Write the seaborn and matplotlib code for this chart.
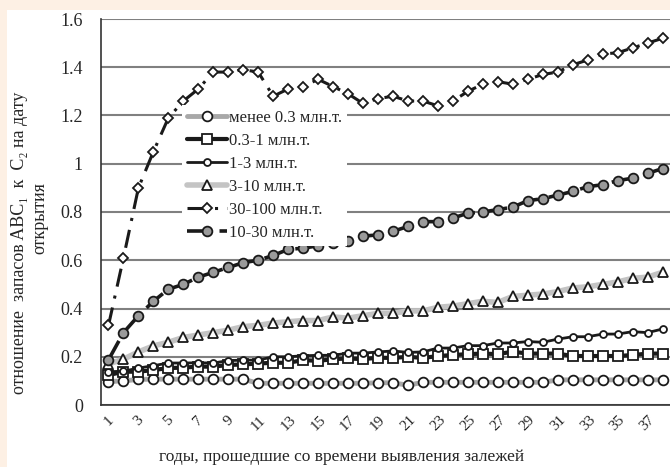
import numpy as np
import pandas as pd
import matplotlib
matplotlib.use("Agg")
import matplotlib.pyplot as plt
from matplotlib.patches import Rectangle
import seaborn as sns

# --- данные ---
years = list(range(1, 39))

s_lt03 = [0.097, 0.100, 0.106, 0.107, 0.107, 0.107, 0.107, 0.107, 0.107, 0.107,
          0.090, 0.090, 0.090, 0.090, 0.090, 0.090, 0.090, 0.090, 0.092, 0.092,
          0.082, 0.094, 0.094, 0.094, 0.094, 0.094, 0.094, 0.094, 0.094, 0.094,
          0.104, 0.104, 0.104, 0.104, 0.104, 0.104, 0.104, 0.104]
s_03_1 = [0.124, 0.138, 0.138, 0.145, 0.153, 0.155, 0.159, 0.159, 0.166, 0.168,
          0.172, 0.175, 0.175, 0.186, 0.183, 0.190, 0.193, 0.190, 0.196, 0.195,
          0.200, 0.195, 0.203, 0.207, 0.211, 0.213, 0.211, 0.221, 0.213, 0.213,
          0.213, 0.203, 0.203, 0.203, 0.203, 0.207, 0.213, 0.213]
s_1_3 = [0.138, 0.140, 0.153, 0.163, 0.174, 0.174, 0.175, 0.174, 0.184, 0.186,
         0.186, 0.200, 0.200, 0.204, 0.206, 0.206, 0.215, 0.215, 0.220, 0.224,
         0.218, 0.220, 0.236, 0.236, 0.246, 0.246, 0.257, 0.257, 0.263, 0.260,
         0.273, 0.283, 0.283, 0.294, 0.294, 0.304, 0.300, 0.315]
s_3_10 = [0.170, 0.190, 0.220, 0.245, 0.260, 0.280, 0.290, 0.300, 0.310, 0.325,
          0.330, 0.340, 0.345, 0.350, 0.350, 0.365, 0.360, 0.370, 0.380, 0.380,
          0.390, 0.390, 0.405, 0.410, 0.420, 0.430, 0.425, 0.450, 0.455, 0.460,
          0.470, 0.485, 0.490, 0.500, 0.510, 0.525, 0.530, 0.550]
s_30_100 = [0.33, 0.61, 0.90, 1.05, 1.19, 1.26, 1.31, 1.38, 1.38, 1.39,
            1.38, 1.28, 1.31, 1.32, 1.35, 1.32, 1.29, 1.25, 1.27, 1.28,
            1.26, 1.26, 1.24, 1.26, 1.30, 1.33, 1.34, 1.33, 1.35, 1.37,
            1.38, 1.41, 1.43, 1.455, 1.46, 1.48, 1.50, 1.52]
s_10_30 = [0.187, 0.30, 0.37, 0.43, 0.48, 0.50, 0.53, 0.55, 0.57, 0.59,
           0.60, 0.62, 0.645, 0.65, 0.66, 0.67, 0.68, 0.70, 0.705, 0.72,
           0.74, 0.76, 0.76, 0.775, 0.795, 0.80, 0.81, 0.82, 0.847, 0.855,
           0.87, 0.885, 0.905, 0.913, 0.93, 0.94, 0.96, 0.98]

series_names = ['менее 0.3 млн.т.', '0.3-1 млн.т.', '1-3 млн.т.',
                '3-10 млн.т.', '30-100 млн.т.', '10-30 млн.т.']
series_values = [s_lt03, s_03_1, s_1_3, s_3_10, s_30_100, s_10_30]

df = pd.concat([pd.DataFrame({'year': years, 'value': v, 'series': n})
                for n, v in zip(series_names, series_values)], ignore_index=True)

# --- стили линий ---
styles = {
    'менее 0.3 млн.т.': dict(color='#a8a8a8', lw=3.5, ls='-', marker='o', ms=7, mfc='white'),
    '0.3-1 млн.т.': dict(color='#1a1a1a', lw=3.0, ls='-', marker='s', ms=6.5, mfc='white'),
    '1-3 млн.т.': dict(color='#1a1a1a', lw=2.0, ls='-', marker='o', ms=5, mfc='white'),
    '3-10 млн.т.': dict(color='#c4c4c4', lw=4.0, ls='-', marker='^', ms=7, mfc='white'),
    '30-100 млн.т.': dict(color='#1a1a1a', lw=2.2, ls=(0, (6, 3, 1, 3)), marker='D', ms=5.5, mfc='white'),
    '10-30 млн.т.': dict(color='#1a1a1a', lw=2.6, ls=(0, (6, 3)), marker='o', ms=7, mfc='#9a9a9a'),
}

sns.set_style('white')
plt.rcParams['font.family'] = ['Liberation Serif', 'DejaVu Serif']
plt.rcParams['axes.unicode_minus'] = False

fig = plt.figure(figsize=(6.7, 4.67), dpi=100, facecolor='#fdf0e4')
fig.patches.append(Rectangle((7 / 670, 0), 1, 1 - 10 / 467, transform=fig.transFigure,
                             facecolor='white', edgecolor='none', zorder=-5))
ax = fig.add_axes([101 / 670, 1 - 405 / 467, 1 - 101 / 670, (405 - 19) / 467])
ax.set_zorder(2)
ax.set_facecolor('white')

for name in series_names:
    st = styles[name]
    sns.lineplot(data=df[df['series'] == name], x='year', y='value', ax=ax,
                 color=st['color'], linewidth=st['lw'], linestyle=st['ls'],
                 marker=st['marker'], markersize=st['ms'], markerfacecolor=st['mfc'],
                 markeredgecolor='#1a1a1a', markeredgewidth=1.3, label=name)

ax.set_xlim(0.5, 38.27)
ax.set_ylim(0, 1.6)
ax.set_yticks(np.arange(0, 1.61, 0.2))
ax.set_yticklabels(['0', '0.2', '0.4', '0.6', '0.8', '1', '1.2', '1.4', '1.6'], fontsize=13)
ax.set_xticks(years[::2])
ax.set_xticklabels([str(y) for y in years[::2]], rotation=45, fontsize=11)
ax.set_xticks(np.arange(0.5, 38.6, 1), minor=True)
ax.tick_params(axis='x', which='major', length=0, pad=6)
ax.tick_params(axis='x', which='minor', length=6, width=1, direction='out', color='#333333')
ax.tick_params(axis='y', length=7, width=1, direction='out', color='#333333', pad=6)
ax.grid(axis='y', color='#808080', linewidth=1.5)
ax.grid(axis='x', visible=False)
for sp in ['top', 'right']:
    ax.spines[sp].set_visible(False)
ax.spines['left'].set_color('#333333')
ax.spines['bottom'].set_color('#333333')
ax.spines['left'].set_linewidth(1.2)
ax.spines['bottom'].set_linewidth(1.2)
ax.set_xlabel('')
ax.set_ylabel('')

leg = ax.legend(loc='upper left', bbox_to_anchor=(0.127, 0.798), frameon=True,
                facecolor='white', edgecolor='none', framealpha=1, fancybox=False,
                fontsize=12, handlelength=2.4, labelspacing=0.42, borderpad=0.3,
                handletextpad=0.15)

# подпись оси Y (две строки)
fig.text(20 / 670, 1 - 243 / 467, 'отношение  запасов ABC₁  к  C₂ на дату',
         rotation=90, ha='center', va='center', fontsize=13)
fig.text(40 / 670, 1 - 218 / 467, 'открытия',
         rotation=90, ha='center', va='center', fontsize=13)
fig.text(342 / 670, 1 - 457 / 467, 'годы, прошедшие со времени выявления залежей',
         ha='center', va='center', fontsize=12.5)

fig.savefig('out.png', dpi=100, facecolor=fig.get_facecolor())
